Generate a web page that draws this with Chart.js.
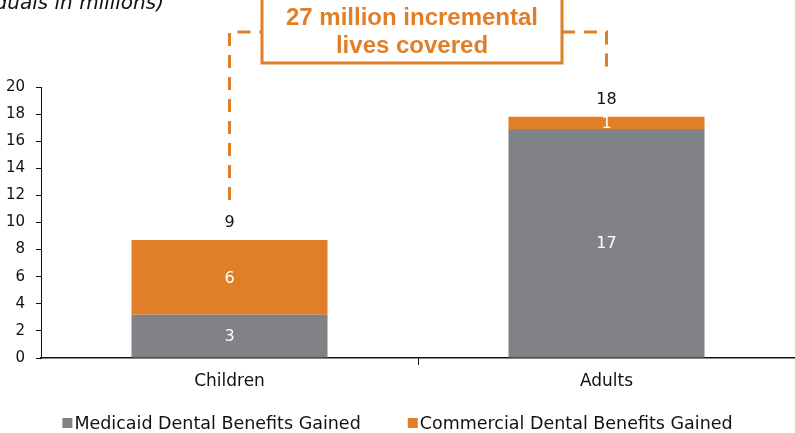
<!DOCTYPE html>
<html><head><meta charset="utf-8">
<script src="https://cdn.jsdelivr.net/npm/chart.js@4/dist/chart.umd.min.js"></script>
<style>html,body{margin:0;padding:0;background:#fff}#wrap{width:795px;height:433px}</style>
</head><body><div id="wrap"><canvas id="c" width="795" height="433"></canvas></div>
<script>
const categories = ["Children", "Adults"];
const medicaid = [3.2, 16.9];
const commercial = [5.5, 0.9];
const seriesNames = ["Medicaid Dental Benefits Gained", "Commercial Dental Benefits Gained"];
const yTicks = [0, 2, 4, 6, 8, 10, 12, 14, 16, 18, 20];
const subtitle = "(individuals in millions)";
const calloutLines = ["27 million incremental", "lives covered"];

const GRAY = "#818286", ORANGE = "#E07F28";
const FONT = "'DejaVu Sans', sans-serif";

const annot = {
  id: "annot",
  afterDatasetsDraw(chart) {
    const ctx = chart.ctx, x = chart.scales.x, y = chart.scales.y;
    ctx.save();
    // value labels
    ctx.textAlign = "center"; ctx.textBaseline = "middle";
    ctx.font = "16px " + FONT;
    [medicaid, commercial].forEach((arr, di) => {
      const meta = chart.getDatasetMeta(di);
      meta.data.forEach((bar, i) => {
        ctx.fillStyle = "#ffffff";
        ctx.fillText(String(Math.round(arr[i])), bar.x, (bar.y + bar.base) / 2 + 1);
      });
    });
    // totals
    ctx.fillStyle = "#111";
    const totals = medicaid.map((v, i) => v + commercial[i]);
    totals.forEach((t, i) => {
      ctx.fillText(String(Math.round(t)), x.getPixelForValue(i), y.getPixelForValue(t) - 17);
    });
    // dashed connector
    const lineY = 32;
    const x0 = x.getPixelForValue(0), x1 = x.getPixelForValue(1);
    const boxL = 262, boxR = 562, boxT = -4, boxB = 63;
    ctx.strokeStyle = ORANGE; ctx.lineWidth = 3; ctx.setLineDash([13, 9]);
    ctx.beginPath();
    ctx.moveTo(x0, y.getPixelForValue(totals[0]) - 40);
    ctx.lineTo(x0, lineY);
    ctx.lineTo(boxL, lineY);
    ctx.stroke();
    ctx.beginPath();
    ctx.moveTo(boxR, lineY);
    ctx.lineTo(x1, lineY);
    ctx.lineTo(x1, y.getPixelForValue(totals[1]) - 45);
    ctx.stroke();
    ctx.setLineDash([]);
    ctx.fillStyle = "#fff";
    ctx.fillRect(boxL, boxT, boxR - boxL, boxB - boxT);
    ctx.lineWidth = 3;
    ctx.strokeRect(boxL, boxT, boxR - boxL, boxB - boxT);
    ctx.fillStyle = ORANGE;
    ctx.font = "bold 24px 'Liberation Sans', sans-serif";
    ctx.fillText(calloutLines[0], (boxL + boxR) / 2, 18);
    ctx.fillText(calloutLines[1], (boxL + boxR) / 2, 46);
    // subtitle
    ctx.fillStyle = "#111"; ctx.textAlign = "right"; ctx.textBaseline = "alphabetic";
    ctx.font = "italic 20px " + FONT;
    ctx.fillText(subtitle, 164, 9);
    // legend
    ctx.font = "17.5px " + FONT; ctx.textBaseline = "middle"; ctx.textAlign = "left";
    const ds = chart.data.datasets;
    const box = 10, gapText = 2, gapItem = 47, ly = 423;
    const widths = ds.map(d => box + gapText + ctx.measureText(d.label).width);
    const total = widths.reduce((a, b) => a + b, 0) + gapItem * (ds.length - 1);
    let lx = chart.width / 2 - total / 2;
    ds.forEach((d, i) => {
      ctx.fillStyle = d.backgroundColor;
      ctx.fillRect(lx, ly - 5, box, box);
      ctx.fillStyle = "#111";
      ctx.fillText(d.label, lx + box + gapText, ly + 1);
      lx += widths[i] + gapItem;
    });
    ctx.restore();
  }
};

new Chart(document.getElementById("c"), {
  type: "bar",
  data: {
    labels: categories,
    datasets: [
      { label: seriesNames[0], data: medicaid, backgroundColor: GRAY, categoryPercentage: 1, barPercentage: 0.52 },
      { label: seriesNames[1], data: commercial, backgroundColor: ORANGE, categoryPercentage: 1, barPercentage: 0.52 }
    ]
  },
  options: {
    responsive: false, animation: false,
    layout: { padding: { top: 87, left: 0, right: 0, bottom: 35 } },
    plugins: { tooltip: { enabled: false }, legend: { display: false } },
    scales: {
      x: {
        stacked: true,
        grid: { display: true, drawOnChartArea: false, offset: true, tickLength: 7,
                color: c => (c.index === 0 ? "rgba(0,0,0,0)" : "#111") },
        border: { color: "#111", width: 1.5 },
        ticks: { color: "#111", font: { family: FONT, size: 17 }, padding: 6 },
        afterFit(s) { s.height = 40; }
      },
      y: {
        stacked: true, min: 0, max: 20,
        afterBuildTicks(s) { s.ticks = yTicks.map(v => ({ value: v })); },
        grid: { display: true, drawOnChartArea: false, color: "#111", tickLength: 5 },
        border: { color: "#111", width: 1 },
        ticks: { color: "#111", font: { family: FONT, size: 15 }, padding: 11 },
        afterFit(s) { s.width = 41; }
      }
    }
  },
  plugins: [annot]
});
</script></body></html>
